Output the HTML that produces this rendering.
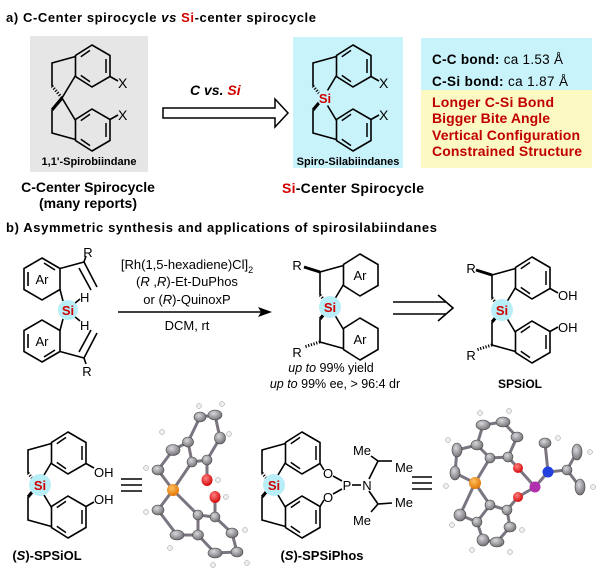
<!DOCTYPE html>
<html><head><meta charset="utf-8"><style>
html,body{margin:0;padding:0;background:#fff;}
svg{display:block;}
text{font-family:"Liberation Sans",Arial,sans-serif;}
</style></head><body>
<svg width="600" height="575" viewBox="0 0 600 575" xmlns="http://www.w3.org/2000/svg">
<defs>
<g id="five" fill="none" stroke="#000" stroke-width="1.6">
<polyline points="13.5,-41.5 -10,-35 -10,-12"/>
<line x1="13.5" y1="-22.5" x2="0" y2="0"/>
<line x1="-10" y1="-12" x2="0" y2="0" stroke-dasharray="1.2,1.6" stroke-width="3"/>
<polyline points="13.5,41.5 -10,35 -10,12"/>
<line x1="13.5" y1="22.5" x2="0" y2="0"/>
<line x1="-10" y1="12" x2="0" y2="0" stroke-width="3.2"/>
<polygon points="30,-53 48,-42.5 48,-21.5 30,-11 13.5,-21.5 13.5,-42.5"/>
<polygon points="30,53 48,42.5 48,21.5 30,11 13.5,21.5 13.5,42.5"/>
</g>
<g id="dbl" fill="none" stroke="#000" stroke-width="1.5">
<line x1="28" y1="-47.6" x2="18.8" y2="-41.3"/>
<line x1="44" y1="-39" x2="44" y2="-25"/>
<line x1="28" y1="-16.3" x2="18.8" y2="-22.6"/>
<line x1="28" y1="47.6" x2="18.8" y2="41.3"/>
<line x1="44" y1="39" x2="44" y2="25"/>
<line x1="28" y1="16.3" x2="18.8" y2="22.6"/>
</g>
<g id="subs" stroke="#000" stroke-width="1.6">
<line x1="48" y1="-21.5" x2="56" y2="-17"/>
<line x1="48" y1="21.5" x2="56" y2="17"/>
</g>
<radialGradient id="gr" cx="40%" cy="35%" r="70%"><stop offset="0" stop-color="#d8d8dc"/><stop offset="1" stop-color="#6e6a70"/></radialGradient>
<radialGradient id="rd" cx="40%" cy="35%" r="70%"><stop offset="0" stop-color="#ff8080"/><stop offset="1" stop-color="#d00000"/></radialGradient>
<radialGradient id="or" cx="40%" cy="35%" r="70%"><stop offset="0" stop-color="#ffc060"/><stop offset="1" stop-color="#e07000"/></radialGradient>
</defs>

<!-- Part a -->
<text x="6" y="22" font-size="13" font-weight="bold" textLength="310">a) C-Center spirocycle <tspan font-style="italic">vs</tspan> <tspan fill="#d00000">Si</tspan>-center spirocycle</text>
<rect x="30" y="36" width="118" height="136" fill="#e6e6e6"/>
<g transform="translate(62,98)"><use href="#five"/><use href="#dbl"/><use href="#subs"/>
<text x="56" y="-10" font-size="14">X</text><text x="56" y="22" font-size="14">X</text></g>
<text x="89" y="165" font-size="11" font-weight="bold" text-anchor="middle">1,1'-Spirobiindane</text>
<text x="88" y="192" font-size="14" font-weight="bold" text-anchor="middle">C-Center Spirocycle</text>
<text x="88" y="208" font-size="14" font-weight="bold" text-anchor="middle">(many reports)</text>

<text x="190" y="95" font-size="14" font-weight="bold" font-style="italic">C vs. <tspan fill="#d00000">Si</tspan></text>
<polygon points="163,108 275,108 275,99 288,113 275,127 275,118 163,118" fill="#fff" stroke="#000" stroke-width="1.5"/>

<rect x="293" y="37" width="110" height="131" fill="#c9f3fa"/>
<g transform="translate(323,98)"><use href="#five"/><use href="#dbl"/><use href="#subs"/>
<circle cx="2" cy="0" r="8" fill="#c9f3fa"/>
<text x="2" y="5" font-size="13" font-weight="bold" fill="#d00000" text-anchor="middle">Si</text>
<text x="56" y="-10" font-size="14">X</text><text x="56" y="22" font-size="14">X</text></g>
<text x="348" y="165" font-size="11" font-weight="bold" text-anchor="middle">Spiro-Silabiindanes</text>
<text x="282" y="193" font-size="14" font-weight="bold" textLength="142"><tspan fill="#d00000">Si</tspan>-Center Spirocycle</text>

<rect x="421" y="38" width="171" height="52" fill="#c9f3fa"/>
<rect x="421" y="90" width="171" height="78" fill="#fcf9c3"/>
<text x="432" y="64" font-size="13.5" textLength="131"><tspan font-weight="bold">C-C bond:</tspan> ca 1.53 Å</text>
<text x="432" y="86" font-size="13.5" textLength="136"><tspan font-weight="bold">C-Si bond:</tspan> ca 1.87 Å</text>
<g fill="#c00000" font-weight="bold" font-size="14">
<text x="432" y="107" textLength="122">Longer C-Si Bond</text>
<text x="432" y="123" textLength="118">Bigger Bite Angle</text>
<text x="432" y="140" textLength="148">Vertical Configuration</text>
<text x="432" y="156" textLength="150">Constrained Structure</text>
</g>

<!-- Part b -->
<text x="6" y="232" font-size="13" font-weight="bold" textLength="431">b) Asymmetric synthesis and applications of spirosilabiindanes</text>

<!-- reactant -->
<g fill="none" stroke="#000" stroke-width="1.6">
<polygon points="42,258 60,268.5 60,289.5 42,300 24,289.5 24,268.5"/>
<polygon points="42,362 60,351.5 60,330.5 42,320 24,330.5 24,351.5"/>
<line x1="44" y1="263" x2="55" y2="270"/><line x1="28" y1="272" x2="28" y2="286"/>
<line x1="44" y1="357" x2="55" y2="350"/><line x1="28" y1="348" x2="28" y2="334"/>
<line x1="60" y1="289.5" x2="63" y2="301"/><line x1="60" y1="330.5" x2="63" y2="319"/>
<line x1="74" y1="304" x2="80" y2="299"/><line x1="74" y1="316" x2="80" y2="321"/>
<line x1="60" y1="268.5" x2="84" y2="262"/><line x1="84" y1="262" x2="86" y2="256"/>
<line x1="84" y1="262" x2="97" y2="287"/><line x1="79" y1="268" x2="91" y2="290"/>
<line x1="60" y1="351.5" x2="84" y2="358"/><line x1="84" y1="358" x2="86" y2="364"/>
<line x1="84" y1="358" x2="97" y2="333"/><line x1="79" y1="352" x2="91" y2="330"/>
</g>
<g font-size="13">
<text x="42" y="284" text-anchor="middle">Ar</text><text x="42" y="346" text-anchor="middle">Ar</text>
<text x="88" y="257" text-anchor="middle">R</text><text x="87" y="376" text-anchor="middle">R</text>
<text x="80" y="302">H</text><text x="80" y="330">H</text>
</g>
<circle cx="68" cy="310" r="10" fill="#b8eef8"/>
<text x="68" y="315" font-size="13" font-weight="bold" fill="#d00000" text-anchor="middle">Si</text>

<g font-size="13" text-anchor="middle">
<text x="187" y="269">[Rh(1,5-hexadiene)Cl]<tspan font-size="9" dy="4">2</tspan></text>
<text x="187" y="286">(<tspan font-style="italic">R</tspan> ,<tspan font-style="italic">R</tspan>)-Et-DuPhos</text>
<text x="187" y="304">or (<tspan font-style="italic">R</tspan>)-QuinoxP</text>
<text x="187" y="330">DCM, rt</text>
</g>
<line x1="118" y1="312" x2="262" y2="312" stroke="#000" stroke-width="1.6"/>
<polygon points="272,312 258,307 261,312 258,317" fill="#000"/>

<!-- product -->
<g transform="translate(330,307)"><use href="#five"/>
<line x1="-10" y1="-35" x2="-26" y2="-40" stroke="#000" stroke-width="3"/>
<line x1="-10" y1="35" x2="-26" y2="40" stroke="#000" stroke-width="3" stroke-dasharray="1.2,1.6"/>
<circle cx="0" cy="0" r="11" fill="#b8eef8"/>
<text x="0" y="5" font-size="13" font-weight="bold" fill="#d00000" text-anchor="middle">Si</text>
<text x="30" y="-27" font-size="13" text-anchor="middle">Ar</text><text x="30" y="37" font-size="13" text-anchor="middle">Ar</text>
<text x="-33" y="-37" font-size="13" text-anchor="middle">R</text><text x="-33" y="50" font-size="13" text-anchor="middle">R</text>
</g>
<text x="331" y="372" font-size="12.5" text-anchor="middle"><tspan font-style="italic">up to</tspan> 99% yield</text>
<text x="335" y="388" font-size="12.5" text-anchor="middle"><tspan font-style="italic">up to</tspan> 99% ee, &gt; 96:4 dr</text>

<g stroke="#000" stroke-width="1.6" fill="none">
<line x1="393" y1="302" x2="446" y2="302"/><line x1="393" y1="314" x2="446" y2="314"/>
<polyline points="438,295 453,308 438,321"/>
</g>

<!-- SPSiOL top -->
<g transform="translate(502,310)"><use href="#five"/><use href="#dbl"/><use href="#subs"/>
<line x1="-10" y1="-35" x2="-26" y2="-40" stroke="#000" stroke-width="3"/>
<line x1="-10" y1="35" x2="-26" y2="40" stroke="#000" stroke-width="3" stroke-dasharray="1.2,1.6"/>
<circle cx="0" cy="0" r="11" fill="#b8eef8"/>
<text x="0" y="5" font-size="13" font-weight="bold" fill="#d00000" text-anchor="middle">Si</text>
<text x="56" y="-10" font-size="13">OH</text><text x="56" y="22" font-size="13">OH</text>
<text x="-31" y="-37" font-size="13" text-anchor="middle">R</text><text x="-31" y="50" font-size="13" text-anchor="middle">R</text>
</g>
<text x="520" y="388" font-size="12" font-weight="bold" text-anchor="middle">SPSiOL</text>

<!-- bottom SPSiOL -->
<g transform="translate(38,485)"><use href="#five"/><use href="#dbl"/><use href="#subs"/>
<circle cx="2" cy="0" r="11" fill="#b8eef8"/>
<text x="2" y="5" font-size="13" font-weight="bold" fill="#d00000" text-anchor="middle">Si</text>
<text x="56" y="-8" font-size="13">OH</text><text x="56" y="19" font-size="13">OH</text>
</g>
<text x="47" y="560" font-size="13" font-weight="bold" text-anchor="middle">(<tspan font-style="italic">S</tspan>)-SPSiOL</text>
<g stroke="#000" stroke-width="1.6"><line x1="121" y1="479" x2="142" y2="479"/><line x1="121" y1="485" x2="142" y2="485"/><line x1="121" y1="491" x2="142" y2="491"/>
<line x1="412" y1="477" x2="432" y2="477"/><line x1="412" y1="483" x2="432" y2="483"/><line x1="412" y1="489" x2="432" y2="489"/></g>

<!-- SPSiPhos -->
<g transform="translate(272,485)"><use href="#five"/><use href="#dbl"/>
<line x1="48" y1="-21.5" x2="52" y2="-15" stroke="#000" stroke-width="1.6"/>
<line x1="48" y1="21.5" x2="52" y2="15" stroke="#000" stroke-width="1.6"/>
<circle cx="2" cy="0" r="11" fill="#b8eef8"/>
<text x="2" y="5" font-size="13" font-weight="bold" fill="#d00000" text-anchor="middle">Si</text>
</g>
<g font-size="13" text-anchor="middle">
<text x="328" y="478">O</text><text x="328" y="502">O</text>
<text x="347" y="490">P</text><text x="367" y="490">N</text>
<text x="362" y="455">Me</text><text x="404" y="472">Me</text>
<text x="404" y="507">Me</text><text x="362" y="525">Me</text>
</g>
<g stroke="#000" stroke-width="1.6">
<line x1="333" y1="476" x2="342" y2="481"/><line x1="333" y1="494" x2="342" y2="489"/>
<line x1="352" y1="485" x2="361" y2="485"/>
<line x1="369" y1="479" x2="378" y2="461"/><line x1="378" y1="461" x2="371" y2="456"/><line x1="378" y1="461" x2="392" y2="461"/>
<line x1="369" y1="491" x2="378" y2="504"/><line x1="378" y1="504" x2="371" y2="512"/><line x1="378" y1="504" x2="392" y2="503"/>
</g>
<text x="322" y="560" font-size="13" font-weight="bold" text-anchor="middle">(<tspan font-style="italic">S</tspan>)-SPSiPhos</text>

<!-- crystal 1 -->
<g stroke="#7a7580" stroke-width="3" fill="none">
<polyline points="192,462 173,490 158,510 177,535 198,535 198,515 173,490"/>
<polyline points="173,490 158,470 173,450 188,442 192,462 207,460 220,438 215,415 200,417 188,442"/>
<polyline points="198,515 215,517 232,533 237,552 215,553 198,535"/>
<line x1="207" y1="460" x2="207" y2="480"/><line x1="215" y1="517" x2="215" y2="497"/>
</g>
<g stroke="#444" stroke-width="0.6" fill="url(#gr)">
<ellipse cx="158" cy="470" rx="6" ry="5"/><ellipse cx="173" cy="450" rx="7" ry="5.5"/><ellipse cx="188" cy="442" rx="5.5" ry="5"/>
<ellipse cx="192" cy="462" rx="5" ry="5"/><ellipse cx="207" cy="460" rx="5" ry="5"/><ellipse cx="220" cy="438" rx="5.5" ry="6"/>
<ellipse cx="215" cy="415" rx="7" ry="5"/><ellipse cx="200" cy="417" rx="6" ry="5"/>
<ellipse cx="158" cy="510" rx="6" ry="5"/><ellipse cx="177" cy="535" rx="7" ry="5"/><ellipse cx="198" cy="535" rx="5.5" ry="5"/>
<ellipse cx="198" cy="515" rx="5" ry="5"/><ellipse cx="215" cy="517" rx="5" ry="5"/><ellipse cx="232" cy="533" rx="6" ry="5"/>
<ellipse cx="237" cy="552" rx="6" ry="5"/><ellipse cx="215" cy="553" rx="7" ry="5"/>
</g>
<ellipse cx="207" cy="480" rx="5.5" ry="6" fill="url(#rd)"/><ellipse cx="215" cy="497" rx="5.5" ry="6" fill="url(#rd)"/>
<circle cx="173" cy="490" r="6" fill="url(#or)"/>
<g fill="#eee" stroke="#999" stroke-width="0.5">
<circle cx="146" cy="468" r="2.5"/><circle cx="162" cy="432" r="2.5"/><circle cx="199" cy="406" r="2.5"/><circle cx="222" cy="404" r="2.5"/><circle cx="229" cy="434" r="2.5"/><circle cx="218" cy="480" r="2.5"/><circle cx="226" cy="497" r="2.5"/><circle cx="146" cy="512" r="2.5"/><circle cx="170" cy="548" r="2.5"/><circle cx="245" cy="530" r="2.5"/><circle cx="247" cy="563" r="2.5"/><circle cx="213" cy="565" r="2.5"/>
</g>

<!-- crystal 2 -->
<g stroke="#7a7580" stroke-width="3" fill="none">
<polygon points="483,425 503,422 517,437 508,457 490,458 477,445"/>
<polygon points="490,505 507,510 510,527 497,542 483,540 477,522"/>
<polyline points="477,445 457,450 455,473 475,483 490,458"/>
<polyline points="475,483 460,515 477,522"/><line x1="475" y1="483" x2="490" y2="505"/>
<polyline points="508,457 518,468 535,487 518,497 507,510"/>
<polyline points="535,487 548,472 545,443"/><polyline points="548,472 567,470 577,452"/><line x1="567" y1="470" x2="580" y2="487"/>
</g>
<g stroke="#444" stroke-width="0.6" fill="url(#gr)">
<ellipse cx="483" cy="425" rx="7" ry="5"/><ellipse cx="503" cy="422" rx="7" ry="5"/><ellipse cx="517" cy="437" rx="6" ry="5"/>
<ellipse cx="508" cy="457" rx="5" ry="5"/><ellipse cx="490" cy="458" rx="5" ry="5"/><ellipse cx="477" cy="445" rx="6" ry="5"/>
<ellipse cx="457" cy="450" rx="5" ry="7"/><ellipse cx="455" cy="473" rx="5" ry="7"/><ellipse cx="460" cy="515" rx="6" ry="6"/>
<ellipse cx="490" cy="505" rx="5" ry="5"/><ellipse cx="507" cy="510" rx="5" ry="5"/><ellipse cx="510" cy="527" rx="6" ry="5"/>
<ellipse cx="497" cy="542" rx="7" ry="5"/><ellipse cx="483" cy="540" rx="6" ry="6"/><ellipse cx="477" cy="522" rx="5" ry="5"/>
<ellipse cx="545" cy="443" rx="6" ry="5"/><ellipse cx="567" cy="470" rx="5" ry="5"/><ellipse cx="577" cy="452" rx="5" ry="8"/><ellipse cx="580" cy="487" rx="5" ry="8"/>
</g>
<ellipse cx="518" cy="468" rx="5" ry="5" fill="url(#rd)"/><ellipse cx="518" cy="497" rx="5" ry="5" fill="url(#rd)"/>
<circle cx="535" cy="487" r="5.5" fill="#b030b0"/><circle cx="548" cy="472" r="5.5" fill="#2040e0"/>
<circle cx="475" cy="483" r="6" fill="url(#or)"/>
<g fill="#eee" stroke="#999" stroke-width="0.5">
<circle cx="509" cy="411" r="2.5"/><circle cx="480" cy="413" r="2.5"/><circle cx="448" cy="440" r="2.5"/><circle cx="446" cy="486" r="2.5"/><circle cx="452" cy="525" r="2.5"/><circle cx="472" cy="550" r="2.5"/><circle cx="510" cy="552" r="2.5"/><circle cx="522" cy="530" r="2.5"/><circle cx="590" cy="452" r="2.5"/><circle cx="593" cy="487" r="2.5"/><circle cx="558" cy="438" r="2.5"/>
</g>
</svg>
</body></html>
